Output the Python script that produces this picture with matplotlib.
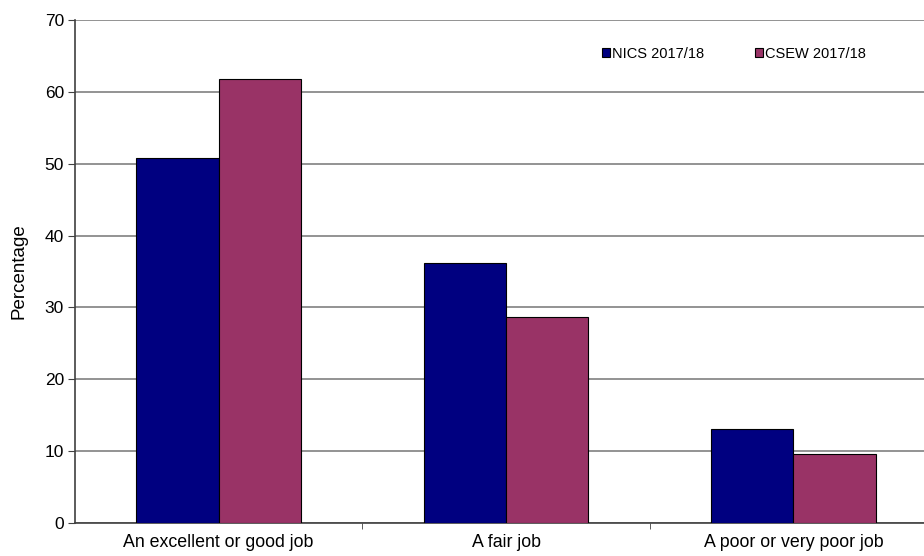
import matplotlib
matplotlib.use("Agg")
import matplotlib.pyplot as plt
import numpy as np

categories = ["An excellent or good job", "A fair job", "A poor or very poor job"]
nics = [50.8, 36.2, 13.1]
csew = [61.8, 28.7, 9.6]
series_names = ["NICS 2017/18", "CSEW 2017/18"]
yticks = [0, 10, 20, 30, 40, 50, 60, 70]

plt.rcParams['font.family'] = ['Liberation Sans', 'DejaVu Sans']

fig = plt.figure(figsize=(9.24, 5.56), dpi=100)
ax = fig.add_axes([75/924, 33/556, 862/924, 503/556])

x = np.arange(len(categories))
w = 0.286
ax.bar(x - w/2, nics, w, color="#000080", edgecolor="black", linewidth=0.8,
       label=series_names[0], zorder=3)
ax.bar(x + w/2, csew, w, color="#993366", edgecolor="black", linewidth=0.8,
       label=series_names[1], zorder=3)

ax.set_xlim(-0.5, len(categories) - 0.5)
ax.set_ylim(0, 70)
ax.set_yticks(yticks)
ax.set_yticklabels([str(t) for t in yticks], fontsize=12.5)
ax.yaxis.grid(True, color="#808080", linewidth=1.2, zorder=0)
ax.set_axisbelow(True)

# category labels centred, ticks between categories
ax.set_xticks(x)
ax.set_xticklabels(categories, fontsize=12.8)
ax.tick_params(axis="x", length=0, pad=8)
ax.set_xticks(np.arange(len(categories) - 1) + 0.5, minor=True)
ax.tick_params(axis="x", which="minor", length=4, color="#404040")
ax.tick_params(axis="y", length=5, color="#404040", pad=3)

for s in ["top", "right"]:
    ax.spines[s].set_visible(False)
ax.spines["left"].set_color("#404040")
ax.spines["left"].set_linewidth(1.2)
ax.spines["bottom"].set_color("#404040")
ax.spines["bottom"].set_linewidth(1.2)

ax.set_ylabel("Percentage", fontsize=13.5, labelpad=12)

leg = ax.legend(loc="center", bbox_to_anchor=(734/924, 1 - 54/556),
                bbox_transform=fig.transFigure, ncol=2, frameon=False,
                fontsize=10.5, handlelength=0.55, handleheight=0.55,
                handletextpad=0.15, columnspacing=3.5)

fig.savefig("out.png", dpi=100)
